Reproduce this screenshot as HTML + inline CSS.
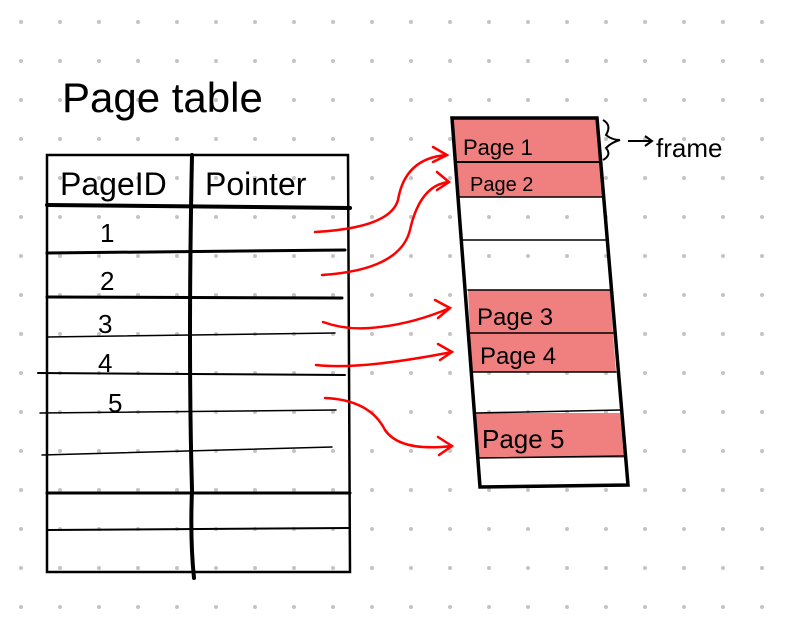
<!DOCTYPE html>
<html><head><meta charset="utf-8"><style>
html,body{margin:0;padding:0;background:#fff;width:787px;height:618px;overflow:hidden}
svg{display:block}
text{font-family:"Liberation Sans",sans-serif;fill:#000}
</style></head><body>
<svg width="787" height="618" viewBox="0 0 787 618">
<g id="dots" fill="#c4c4c4"></g>
<text x="62" y="112" font-size="42">Page table</text>
<g stroke="#000" fill="none" stroke-linecap="round">
<path d="M47 155 L348 155 L350 572 L47 572 Z" stroke-width="2.5"/>
<path d="M192 155 Q188 350 192 490 Q190 540 194 578" stroke-width="4"/>
<path d="M47 205 L350 208" stroke-width="4"/>
<path d="M47 253 L345 250" stroke-width="3"/>
<path d="M47 297 L342 298" stroke-width="3"/>
<path d="M47 337 L335 333" stroke-width="1.5"/>
<path d="M38 373 L345 375" stroke-width="2"/>
<path d="M40 413 L336 410" stroke-width="1.5"/>
<path d="M42 455 L332 447" stroke-width="1.5"/>
<path d="M47 493 L350 493" stroke-width="3"/>
<path d="M47 530 L350 528" stroke-width="2"/>
</g>
<text x="60" y="195" font-size="32">PageID</text>
<text x="205" y="195" font-size="32">Pointer</text>
<text x="100" y="242" font-size="26">1</text>
<text x="100" y="290" font-size="26">2</text>
<text x="98" y="333" font-size="26">3</text>
<text x="98" y="372" font-size="26">4</text>
<text x="108" y="412" font-size="26">5</text>
<g>
<path d="M453 118 L597 118 L600 162 L456 162 Z" fill="#f08080"/>
<path d="M456 162 L600 162 L602 197 L458 197 Z" fill="#f08080"/>
<path d="M468 290 L610 290 L613 333 L470 333 Z" fill="#f08080"/>
<path d="M470 333 L613 333 L616 372 L472 372 Z" fill="#f08080"/>
<path d="M476 413 L620 413 L624 458 L478 458 Z" fill="#f08080"/>
<g stroke="#000" fill="none" stroke-linecap="round">
<path d="M452 118 L480 487 L628 485 L597 118 Z" stroke-width="3.5"/>
<path d="M456 162 L600 162" stroke-width="2"/>
<path d="M458 197 L602 197" stroke-width="1.5"/>
<path d="M461 240 L606 240" stroke-width="1.5"/>
<path d="M468 290 L610 290" stroke-width="1.5"/>
<path d="M470 333 L613 333" stroke-width="1.5"/>
<path d="M472 372 L616 372" stroke-width="1.5"/>
<path d="M476 413 L620 410" stroke-width="1.5"/>
<path d="M478 458 L624 456" stroke-width="1.5"/>
</g>
<text x="463" y="155" font-size="22">Page 1</text>
<text x="470" y="191" font-size="20">Page 2</text>
<text x="477" y="325" font-size="24">Page 3</text>
<text x="480" y="364" font-size="24">Page 4</text>
<text x="482" y="448" font-size="26">Page 5</text>
</g>
<path d="M603 120 Q612 125 606 135 Q612 140 620 140 Q612 142 606 148 Q612 155 603 160" stroke="#000" fill="none" stroke-width="2"/>
<path d="M628 141 L652 141 M645 136 L652 141 L645 146" stroke="#000" fill="none" stroke-width="2"/>
<text x="656" y="157" font-size="26">frame</text>
<g stroke="#f00" fill="none" stroke-width="2.5" stroke-linecap="round">
<path d="M315 232 Q390 228 398 200 Q405 158 447 155 M433 147 L447 155 L433 162"/>
<path d="M322 275 Q400 270 410 230 Q420 185 449 182 M437 172 L449 182 L437 190"/>
<path d="M323 322 Q345 330 370 328 Q410 325 450 308 M435 300 L450 308 L438 318"/>
<path d="M316 365 Q360 370 452 352 M438 344 L452 352 L440 360"/>
<path d="M325 398 Q370 400 385 430 Q400 452 452 446 M438 437 L452 446 L439 455"/>
</g>
</svg>
<script>
var g=document.getElementById('dots');
for(var x=21;x<787;x+=39){for(var y=22;y<618;y+=39){
var c=document.createElementNS('http://www.w3.org/2000/svg','circle');
c.setAttribute('cx',x);c.setAttribute('cy',y);c.setAttribute('r',2);


g.appendChild(c);}}
</script>
</body></html>
